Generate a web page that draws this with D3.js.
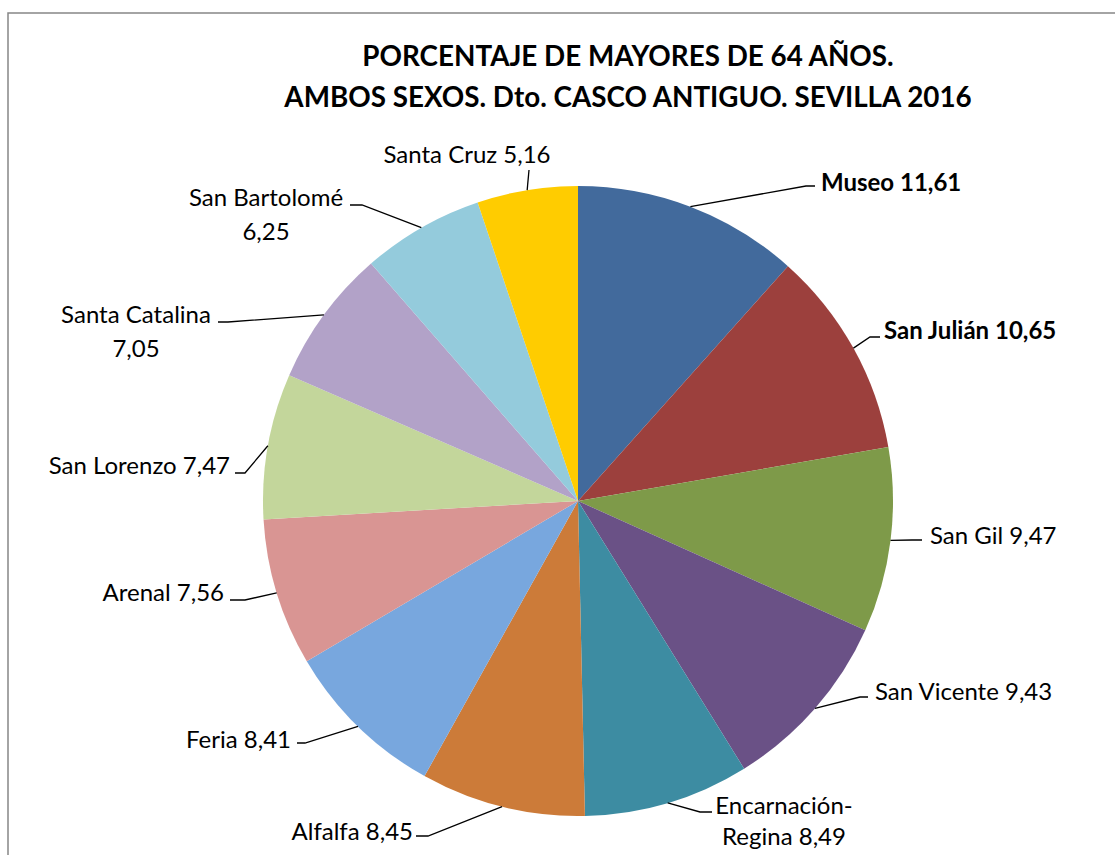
<!DOCTYPE html>
<html>
<head>
<meta charset="utf-8">
<script src="https://cdn.jsdelivr.net/npm/d3@7"></script>
<style>
  body { margin: 0; background: #fff; }
  svg { display: block; }
  text { font-family: Lato, "Liberation Sans", sans-serif; fill: #000; }
</style>
</head>
<body>
<div id="chart"></div>
<script>
// chart data
var barrios = ["Museo", "San Julián", "San Gil", "San Vicente", "Encarnación-Regina",
               "Alfalfa", "Feria", "Arenal", "San Lorenzo", "Santa Catalina",
               "San Bartolomé", "Santa Cruz"];
var valores = [11.61, 10.65, 9.47, 9.43, 8.49, 8.45, 8.41, 7.56, 7.47, 7.05, 6.25, 5.16];
var colores = ["#426a9c", "#9c403d", "#7e9a49", "#6a5186", "#3d8ca2", "#cc7b39",
               "#78a7de", "#d99593", "#c3d69b", "#b2a2c8", "#94cbdc", "#ffcc00"];
var negrita = ["Museo", "San Julián"];
var titulo = ["PORCENTAJE DE MAYORES DE 64 AÑOS.", "AMBOS SEXOS. Dto. CASCO ANTIGUO. SEVILLA 2016"];

// label layout: leader elbow (ex,ey), end of leader (hx), text position and line breaks
var labelLayout = {
  "Museo":              {ex: 806, ey: 186, hx: 815, tx: 821, ty: 183, anchor: "start", lines: null},
  "San Julián":         {ex: 870, ey: 337, hx: 880, tx: 884, ty: 331, anchor: "start", lines: null},
  "San Gil":            {ex: 912, ey: 540, hx: 922, tx: 930, ty: 536, anchor: "start", lines: null},
  "San Vicente":        {ex: 860, ey: 697, hx: 868, tx: 875, ty: 692, anchor: "start", lines: null},
  "Encarnación-Regina": {ex: 700, ey: 812, hx: 712, tx: 784, ty: 806, anchor: "middle", lines: ["Encarnación-", "Regina"]},
  "Alfalfa":            {ex: 428, ey: 836, hx: 416, tx: 413, ty: 832, anchor: "end", lines: null},
  "Feria":              {ex: 305, ey: 743, hx: 297, tx: 291, ty: 740, anchor: "end", lines: null},
  "Arenal":             {ex: 245, ey: 600, hx: 230, tx: 224, ty: 593, anchor: "end", lines: null},
  "San Lorenzo":        {ex: 245, ey: 473, hx: 235, tx: 230, ty: 466, anchor: "end", lines: null},
  "Santa Catalina":     {ex: 228, ey: 322, hx: 218, tx: 136, ty: 315, anchor: "middle", lines: ["Santa Catalina", ""]},
  "San Bartolomé":      {ex: 362, ey: 205, hx: 350, tx: 266, ty: 198, anchor: "middle", lines: ["San Bartolomé", ""]},
  "Santa Cruz":         {ex: 529, ey: 170, hx: 529, tx: 467, ty: 155, anchor: "middle", lines: null}
};

var width = 1115, height = 855;
var cx = 578, cy = 501, radius = 315;

var svg = d3.select("#chart").append("svg")
    .attr("width", width)
    .attr("height", height);

// chart area border
svg.append("rect")
    .attr("x", 8).attr("y", 13)
    .attr("width", 1140).attr("height", 900)
    .attr("fill", "#fff")
    .attr("stroke", "#868686")
    .attr("stroke-width", 1.5);

// title
titulo.forEach(function(line, i) {
  svg.append("text")
      .attr("x", 628).attr("y", 56 + i * 41)
      .attr("dy", "0.35em")
      .attr("text-anchor", "middle")
      .style("font-size", "27.8px").style("font-weight", "bold")
      .text(line);
});

var data = barrios.map(function(b, i) { return {name: b, value: valores[i], color: colores[i]}; });

var pie = d3.pie()
    .sort(null)
    .value(function(d) { return d.value; });

var arc = d3.arc()
    .innerRadius(0)
    .outerRadius(radius);

var g = svg.append("g")
    .attr("transform", "translate(" + cx + "," + cy + ")");

var arcs = pie(data);

g.selectAll(".slice")
    .data(arcs)
    .enter().append("path")
    .attr("class", "slice")
    .attr("d", arc)
    .attr("fill", function(d) { return d.data.color; });

var fmt = function(v) { return d3.format(".2f")(v).replace(".", ","); };

// leader lines and labels
arcs.forEach(function(d) {
  var lay = labelLayout[d.data.name];
  var mid = (d.startAngle + d.endAngle) / 2;
  var sx = cx + radius * Math.sin(mid),
      sy = cy - radius * Math.cos(mid);
  var pts = [[sx, sy], [lay.ex, lay.ey], [lay.hx, lay.ey]];
  svg.append("path")
      .attr("d", d3.line()(pts))
      .attr("fill", "none")
      .attr("stroke", "#000")
      .attr("stroke-width", 1.3);

  var bold = negrita.indexOf(d.data.name) != -1;
  var t = svg.append("text")
      .attr("text-anchor", lay.anchor)
      .style("font-size", "24px")
      .style("font-weight", bold ? "bold" : "normal");

  if (!lay.lines) {
    t.attr("x", lay.tx).attr("y", lay.ty)
      .attr("dy", "0.35em")
      .text(d.data.name + " " + fmt(d.data.value));
  } else {
    var second = lay.lines[1] ? lay.lines[1] + " " + fmt(d.data.value) : fmt(d.data.value);
    t.append("tspan").attr("x", lay.tx).attr("y", lay.ty).attr("dy", "0.35em").text(lay.lines[0]);
    t.append("tspan").attr("x", lay.tx).attr("y", lay.ty + 31 + (lay.lines[1] ? 0 : 3)).attr("dy", "0.35em").text(second);
  }
});
</script>
</body>
</html>
